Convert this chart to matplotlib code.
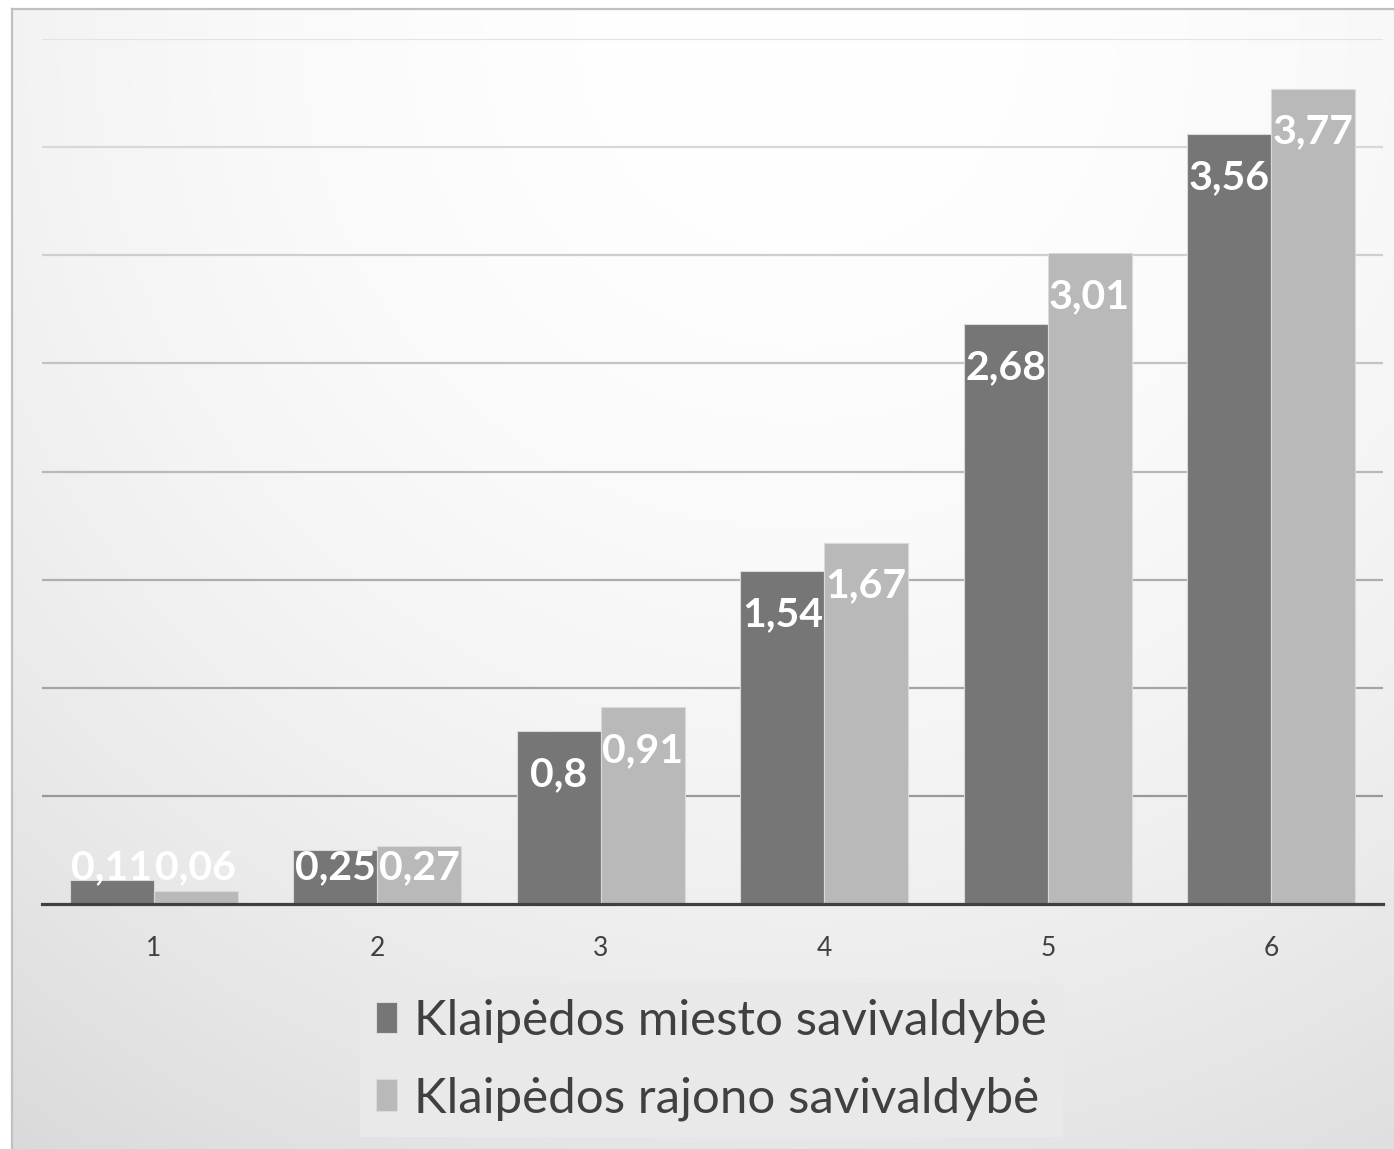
import numpy as np
import matplotlib
matplotlib.use("Agg")
import matplotlib.pyplot as plt

plt.rcParams["font.family"] = ["Lato", "DejaVu Sans"]

# Datos
grupos = ["1", "2", "3", "4", "5", "6"]
miesto = [0.11, 0.25, 0.8, 1.54, 2.68, 3.56]
rajono = [0.06, 0.27, 0.91, 1.67, 3.01, 3.77]
series = ["Klaipėdos miesto savivaldybė", "Klaipėdos rajono savivaldybė"]

COL_DARK = "#767676"
COL_LIGHT = "#b9b9b9"
COL_TEXT = "#404040"

W, H = 1394, 1149
fig = plt.figure(figsize=(W / 100, H / 100), dpi=100)
fig.patch.set_facecolor("white")

# Fondo con degradado radial (estilo Excel)
bg = fig.add_axes([0, 0, 1, 1], zorder=-5)
yy, xx = np.mgrid[0:H, 0:W]
d2 = (xx - 800.0) ** 2 + (yy - 30.0) ** 2
val = np.clip(255 - 2.0e-5 * d2, 205, 255) / 255.0
img = np.dstack([val, val, val])
img[:9, :, :] = 1.0
img[:, :12, :] = 1.0
bg.imshow(img, extent=[0, W, H, 0], aspect="auto", interpolation="bilinear")
bg.plot([12, 12], [9, H], color="#c0c0c0", lw=1.6)
bg.plot([12, W], [9, 9], color="#c0c0c0", lw=1.6)
bg.set_xlim(0, W)
bg.set_ylim(H, 0)
bg.axis("off")

# Ejes principales
ax = fig.add_axes([42 / W, 1 - 904 / H, 1341 / W, 865 / H])
ax.set_facecolor("none")
x = np.arange(1, len(grupos) + 1)
bw = 0.375
b1 = ax.bar(x - bw / 2, miesto, bw, color=COL_DARK, edgecolor="#dadada",
            linewidth=0.8, zorder=3, label=series[0])
b2 = ax.bar(x + bw / 2, rajono, bw, color=COL_LIGHT, edgecolor="#dadada",
            linewidth=0.8, zorder=3, label=series[1])

ax.set_xlim(0.5, len(grupos) + 0.5)
ax.set_ylim(0, 4)

# Líneas de cuadrícula con tono degradado
ticks = np.arange(0.5, 4.01, 0.5)
grises = np.linspace(0.60, 0.89, len(ticks))
for t, g in zip(ticks, grises):
    ax.axhline(t, color=(g, g, g), lw=1.6, zorder=1)

# Etiquetas de valor
for xs, vals in ((x - bw / 2, miesto), (x + bw / 2, rajono)):
    for xi, v in zip(xs, vals):
        txt = f"{v:g}".replace(".", ",")
        ax.text(xi, max(v - 0.2, 0.17), txt, ha="center", va="center",
                color="white", fontsize=29.5, fontweight="bold", zorder=5)

ax.set_xticks(x)
ax.set_xticklabels(grupos)
ax.set_yticks([])
ax.tick_params(axis="x", length=0, pad=23, labelsize=19, labelcolor=COL_TEXT)
for s in ("top", "right", "left"):
    ax.spines[s].set_visible(False)
ax.spines["bottom"].set_color(COL_TEXT)
ax.spines["bottom"].set_linewidth(2.3)
ax.spines["bottom"].set_zorder(4)

# Leyenda
leg = fig.legend([b1, b2], series, loc="center",
                 bbox_to_anchor=(711.5 / W, 1 - 1060 / H),
                 fontsize=35.5, frameon=True, facecolor="#e9e9e9", edgecolor="none",
                 fancybox=False, framealpha=1, handlelength=0.42, handleheight=0.6,
                 handletextpad=0.35, labelspacing=0.68, borderpad=0.33,
                 borderaxespad=0)
for t in leg.get_texts():
    t.set_color(COL_TEXT)

fig.savefig("out.png", dpi=100)
